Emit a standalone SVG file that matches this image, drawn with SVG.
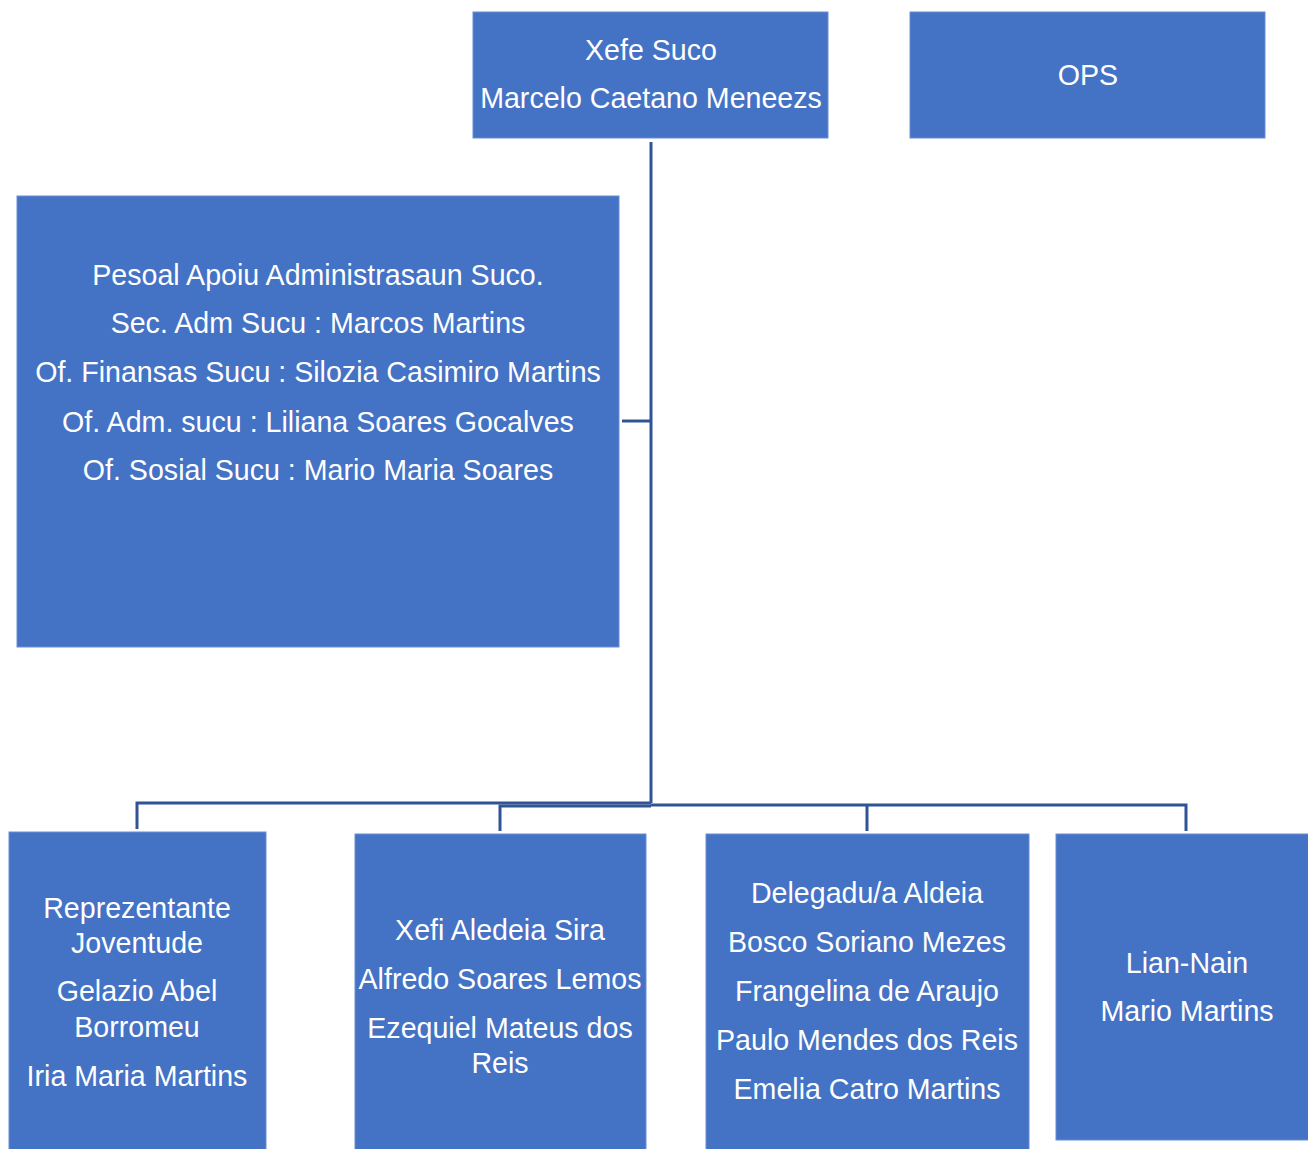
<svg xmlns="http://www.w3.org/2000/svg" width="1308" height="1149" viewBox="0 0 1308 1149">
<style>
.box{fill:#4472C4;stroke:#6A8ED3;stroke-width:1}
.t{font-family:"Liberation Sans",Arial,sans-serif;font-size:28.6px;fill:#FFFFFF;text-anchor:middle}
.ln{fill:none;stroke:#2F5597;stroke-width:3}
</style>
<rect width="1308" height="1149" fill="#FFFFFF"/>
<g id="connectors">
<path class="ln" d="M651,142 V803"/>
<path class="ln" d="M622,421 H651"/>
<path class="ln" d="M137,829 V803 H651"/>
<path class="ln" d="M500,831 V806 H651"/>
<path class="ln" d="M651,805 H1186 V831"/>
<path class="ln" d="M867,805 V831"/>
</g>
<g id="xefe-suco">
<rect class="box" x="473" y="12" width="355" height="126"/>
<text class="t" x="651" y="60">Xefe Suco</text>
<text class="t" x="651" y="108">Marcelo Caetano Meneezs</text>
</g>
<g id="ops">
<rect class="box" x="910" y="12" width="355" height="126"/>
<text class="t" x="1088" y="85">OPS</text>
</g>
<g id="apoiu-administrasaun">
<rect class="box" x="17" y="196" width="602" height="451"/>
<text class="t" x="318" y="285">Pesoal Apoiu Administrasaun Suco.</text>
<text class="t" x="318" y="333">Sec. Adm Sucu : Marcos Martins</text>
<text class="t" x="318" y="382">Of. Finansas Sucu : Silozia Casimiro Martins</text>
<text class="t" x="318" y="432">Of. Adm. sucu : Liliana Soares Gocalves</text>
<text class="t" x="318" y="480">Of. Sosial Sucu : Mario Maria Soares</text>
</g>
<g id="reprezentante-joventude">
<rect class="box" x="9" y="832" width="257" height="320"/>
<text class="t" x="137" y="918">Reprezentante</text>
<text class="t" x="137" y="953">Joventude</text>
<text class="t" x="137" y="1001">Gelazio Abel</text>
<text class="t" x="137" y="1037">Borromeu</text>
<text class="t" x="137" y="1086">Iria Maria Martins</text>
</g>
<g id="xefi-aldeia">
<rect class="box" x="355" y="834" width="291" height="318"/>
<text class="t" x="500" y="940">Xefi Aledeia Sira</text>
<text class="t" x="500" y="989">Alfredo Soares Lemos</text>
<text class="t" x="500" y="1038">Ezequiel Mateus dos</text>
<text class="t" x="500" y="1073">Reis</text>
</g>
<g id="delegadu-aldeia">
<rect class="box" x="706" y="834" width="323" height="318"/>
<text class="t" x="867" y="903">Delegadu/a Aldeia</text>
<text class="t" x="867" y="952">Bosco Soriano Mezes</text>
<text class="t" x="867" y="1001">Frangelina de Araujo</text>
<text class="t" x="867" y="1050">Paulo Mendes dos Reis</text>
<text class="t" x="867" y="1099">Emelia Catro Martins</text>
</g>
<g id="lian-nain">
<rect class="box" x="1056" y="834" width="255" height="306"/>
<text class="t" x="1187" y="973">Lian-Nain</text>
<text class="t" x="1187" y="1021">Mario Martins</text>
</g>
</svg>
